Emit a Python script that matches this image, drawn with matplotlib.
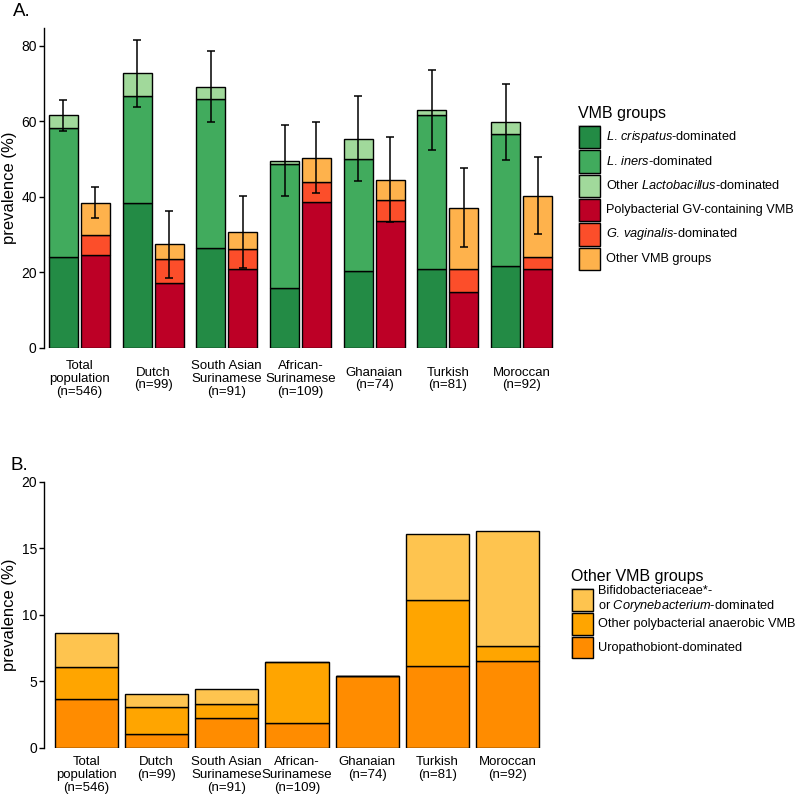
import numpy as np
import matplotlib.pyplot as plt
from matplotlib.patches import Rectangle

plt.rcParams['font.family'] = 'Liberation Sans'
plt.rcParams['mathtext.fontset'] = 'custom'
plt.rcParams['mathtext.rm'] = 'Liberation Sans'
plt.rcParams['mathtext.it'] = 'Liberation Sans:italic'

W, H = 796, 800

# ------------ data ---------------
groups = ['Total\npopulation\n(n=546)', 'Dutch\n(n=99)', 'South Asian\nSurinamese\n(n=91)',
          'African-\nSurinamese\n(n=109)', 'Ghanaian\n(n=74)', 'Turkish\n(n=81)', 'Moroccan\n(n=92)']

# panel A, segment heights (%)
crispatus = [24.0, 38.4, 26.3, 15.7, 20.3, 20.9, 21.6]
iners = [34.2, 28.4, 39.7, 32.9, 29.6, 40.8, 34.9]
other_lacto = [3.4, 6.0, 3.2, 0.9, 5.5, 1.3, 3.3]
poly_gv = [24.6, 17.1, 20.9, 38.5, 33.6, 14.8, 20.8]
g_vaginalis = [5.2, 6.3, 5.3, 5.4, 5.5, 6.1, 3.1]
other_vmb = [8.6, 4.0, 4.4, 6.4, 5.4, 16.1, 16.3]
# 95% CI of the stacked totals
lacto_ci_low = [57.5, 63.9, 59.8, 40.2, 44.1, 52.4, 49.7]
lacto_ci_high = [65.7, 81.5, 78.7, 59.0, 66.7, 73.5, 69.9]
nonlacto_ci_low = [34.4, 18.5, 21.1, 41.1, 33.3, 26.6, 30.1]
nonlacto_ci_high = [42.7, 36.1, 40.3, 59.9, 55.9, 47.6, 50.4]

# panel B, segment heights (%)
uropathobiont = [3.66, 1.01, 2.20, 1.83, 5.41, 6.17, 6.52]
other_polybact = [2.38, 2.02, 1.10, 4.59, 0.0, 4.94, 1.09]
bifido_coryne = [2.57, 1.01, 1.10, 0.0, 0.0, 4.94, 8.70]

colors_a = ['#238b45', '#41ab5d', '#a1d99b', '#bd0026', '#fc4e2a', '#feb24c']
labels_a = [r'$\mathit{L.\,crispatus}$-dominated', r'$\mathit{L.\,iners}$-dominated',
            r'Other $\mathit{Lactobacillus}$-dominated', 'Polybacterial GV-containing VMB',
            r'$\mathit{G.\,vaginalis}$-dominated', 'Other VMB groups']
colors_b = ['#fec44f', '#ffa500', '#ff8c00']
labels_b = ['Bifidobacteriaceae*-\nor $\\mathit{Corynebacterium}$-dominated',
            'Other polybacterial anaerobic VMB', 'Uropathobiont-dominated']


def px(x, y):
    return x / W, 1 - y / H


def style_axis(ax, ymax, ticks):
    for s in ['top', 'right', 'bottom']:
        ax.spines[s].set_visible(False)
    ax.spines['left'].set_linewidth(1.0)
    ax.set_ylim(0, ymax)
    ax.set_yticks(ticks)
    ax.tick_params(axis='y', direction='out', length=3.6, width=1.0, pad=1.7,
                   labelsize=10, colors='black')
    ax.tick_params(axis='x', length=0, labelsize=9.5)


def legend(x0, y_title, y0, cell, title, colors, labels, text_x):
    fig.text(*px(x0, y_title), title, fontsize=11.5, va='baseline', ha='left')
    kw = 23.4
    fig.add_artist(Rectangle(px(x0, y0 + cell * len(colors)), kw / W, cell * len(colors) / H,
                             transform=fig.transFigure, facecolor='#d0d0d0', edgecolor='none'))
    for i, (c, l) in enumerate(zip(colors, labels)):
        top = y0 + i * cell + 1
        fig.add_artist(Rectangle(px(x0 + 1, top + cell - 2), (kw - 2) / W, (cell - 2) / H,
                                 transform=fig.transFigure, facecolor=c, edgecolor='black', lw=1.0))
        fig.text(*px(text_x, top + (cell - 2) / 2), l, fontsize=9.2, va='center', ha='left',
                 linespacing=1.1)


fig = plt.figure(figsize=(W / 100, H / 100), dpi=100)
x = np.arange(len(groups))

# ------------ panel A ---------------
axA = fig.add_axes([44 / W, 1 - 347.7 / H, (557 - 44) / W, (347.7 - 28) / H])
bw = 0.395
off = 0.217
bottom = np.zeros(len(groups))
for vals, c in zip([crispatus, iners, other_lacto], colors_a[:3]):
    axA.bar(x - off, vals, bw, bottom=bottom, color=c, edgecolor='black', lw=1.0, zorder=2)
    bottom = bottom + np.array(vals)
lacto_tot = bottom.copy()
bottom = np.zeros(len(groups))
for vals, c in zip([poly_gv, g_vaginalis, other_vmb], colors_a[3:]):
    axA.bar(x + off, vals, bw, bottom=bottom, color=c, edgecolor='black', lw=1.0, zorder=2)
    bottom = bottom + np.array(vals)
nonlacto_tot = bottom.copy()

axA.errorbar(x - off, lacto_tot, yerr=[lacto_tot - np.array(lacto_ci_low), np.array(lacto_ci_high) - lacto_tot],
             fmt='none', ecolor='black', elinewidth=1.1, capsize=2.6, capthick=1.1, zorder=3)
axA.errorbar(x + off, nonlacto_tot, yerr=[nonlacto_tot - np.array(nonlacto_ci_low), np.array(nonlacto_ci_high) - nonlacto_tot],
             fmt='none', ecolor='black', elinewidth=1.1, capsize=2.6, capthick=1.1, zorder=3)

axA.set_xlim(-0.48, 6.48)
style_axis(axA, 84.7, [0, 20, 40, 60, 80])
axA.set_xticks(x)
axA.set_xticklabels(groups, linespacing=1.1)
axA.tick_params(axis='x', pad=22.5)
for lbl in axA.get_xticklabels():
    lbl.set_verticalalignment('center')

fig.text(*px(9.5, 188), 'prevalence (%)', rotation=90, fontsize=12, ha='center', va='center')
fig.text(*px(13, 16), 'A.', fontsize=13.5, va='baseline', ha='left')
legend(578, 118, 125, 24.3, 'VMB groups', colors_a, labels_a, 605.7)

# ------------ panel B ---------------
axB = fig.add_axes([44.3 / W, 1 - 747.7 / H, (549.7 - 44.3) / W, (747.7 - 481.7) / H])
bottom = np.zeros(len(groups))
for vals, c in zip([uropathobiont, other_polybact, bifido_coryne], colors_b[::-1]):
    axB.bar(x, vals, 0.9, bottom=bottom, color=c, edgecolor='black', lw=1.0, zorder=2)
    bottom = bottom + np.array(vals)
axB.set_xlim(-0.6, 6.6)
style_axis(axB, 20, [0, 5, 10, 15, 20])
axB.set_xticks(x)
axB.set_xticklabels(groups, linespacing=1.1)
axB.tick_params(axis='x', pad=6)

fig.text(*px(9.5, 615), 'prevalence (%)', rotation=90, fontsize=12, ha='center', va='center')
fig.text(*px(11, 470), 'B.', fontsize=13.5, va='baseline', ha='left')
legend(571, 581, 588, 23.8, 'Other VMB groups', colors_b, labels_b, 598.3)

fig.savefig('out.png', dpi=100)
